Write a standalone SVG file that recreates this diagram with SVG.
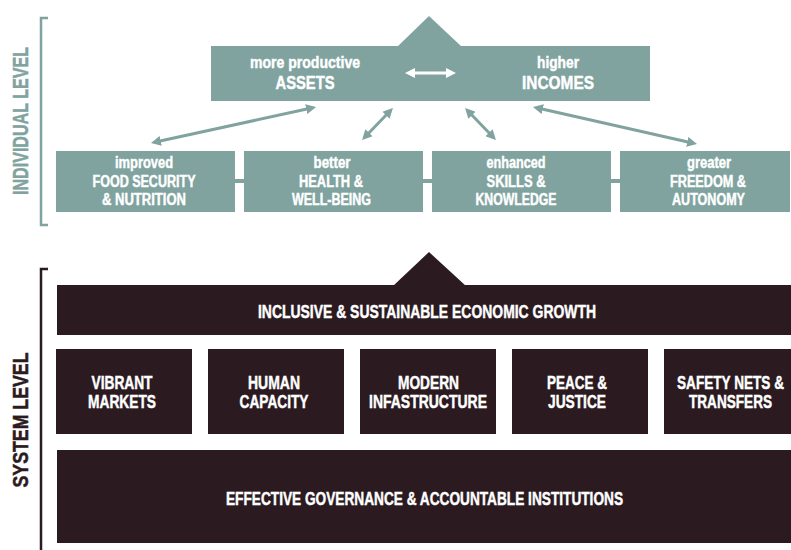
<svg xmlns="http://www.w3.org/2000/svg" width="791" height="550" viewBox="0 0 791 550">
  <style>
    .teal { fill: #80a3a0; }
    .dark { fill: #2b1b21; }
    .t { font-family: "Liberation Sans Narrow", "Liberation Sans", Arial, sans-serif; font-weight: bold; fill: #ffffff; stroke: #ffffff; stroke-width: 0.45; text-anchor: middle; }
    .s { font-size: 16px; }
    .b { font-size: 18.5px; }
    .m { font-size: 16px; }
    .lvl { font-family: "Liberation Sans Narrow", "Liberation Sans", Arial, sans-serif; font-weight: bold; font-size: 22.5px; stroke-width: 0.5; text-anchor: middle; }
    .bracket { fill: none; stroke-width: 2.5; }
    .arr { fill: none; stroke: #80a3a0; stroke-width: 3; marker-start: url(#hd); marker-end: url(#hd); }
    .warr { fill: none; stroke: #ffffff; stroke-width: 3; marker-start: url(#hw); marker-end: url(#hw); }
  </style>
  <defs>
    <marker id="hd" viewBox="0 0 10 10" refX="3" refY="5" markerWidth="10" markerHeight="10" markerUnits="userSpaceOnUse" orient="auto-start-reverse">
      <path d="M0,0 L10,5 L0,10 z" fill="#80a3a0"/>
    </marker>
    <marker id="hw" viewBox="0 0 10 10" refX="3" refY="5" markerWidth="10" markerHeight="11" markerUnits="userSpaceOnUse" orient="auto-start-reverse">
      <path d="M0,0 L10,5 L0,10 z" fill="#ffffff"/>
    </marker>
  </defs>

  <!-- level brackets and labels -->
  <g id="individual-level">
    <path class="bracket" stroke="#80a3a0" d="M48,18 H41 V225 H48"/>
    <text class="lvl" fill="#80a3a0" stroke="#80a3a0" transform="translate(28,121) rotate(-90)" textLength="148" lengthAdjust="spacingAndGlyphs">INDIVIDUAL LEVEL</text>
  </g>
  <g id="system-level">
    <path class="bracket" stroke="#2b1b21" d="M48,269 H41 V550"/>
    <text class="lvl" fill="#2b1b21" stroke="#2b1b21" transform="translate(28,420) rotate(-90)" textLength="135" lengthAdjust="spacingAndGlyphs">SYSTEM LEVEL</text>
  </g>

  <!-- connectors -->
  <g id="connectors">
    <rect class="teal" x="235" y="179" width="9" height="4"/>
    <rect class="teal" x="423" y="179" width="9" height="4"/>
    <rect class="teal" x="611" y="179" width="9" height="4"/>
    <path class="arr" d="M157.8,141.5 L309.2,108.5"/>
    <path class="arr" d="M366.9,135 L388.1,113"/>
    <path class="arr" d="M469.9,113 L491.1,135"/>
    <path class="arr" d="M539.8,108.5 L690.2,142.5"/>
  </g>

  <!-- individual level -->
  <g id="assets-incomes">
    <polygon class="teal" points="397,47 429,16 462,47"/>
    <rect class="teal" x="211" y="46" width="439" height="55"/>
    <text class="t s" x="305" y="68" textLength="110" lengthAdjust="spacingAndGlyphs">more productive</text>
    <text class="t b" x="305" y="89" textLength="59" lengthAdjust="spacingAndGlyphs">ASSETS</text>
    <text class="t s" x="558" y="68" textLength="42" lengthAdjust="spacingAndGlyphs">higher</text>
    <text class="t b" x="558" y="89" textLength="72" lengthAdjust="spacingAndGlyphs">INCOMES</text>
    <path class="warr" d="M412,73 L449,73"/>
  </g>
  <g id="food-security">
    <rect class="teal" x="56" y="151" width="179" height="61"/>
    <text class="t s" x="144" y="168" textLength="58" lengthAdjust="spacingAndGlyphs">improved</text>
    <text class="t m" x="144" y="187" textLength="103" lengthAdjust="spacingAndGlyphs">FOOD SECURITY</text>
    <text class="t m" x="144" y="205" textLength="84" lengthAdjust="spacingAndGlyphs">&amp; NUTRITION</text>
  </g>
  <g id="health">
    <rect class="teal" x="244" y="151" width="179" height="61"/>
    <text class="t s" x="332" y="168" textLength="37" lengthAdjust="spacingAndGlyphs">better</text>
    <text class="t m" x="331" y="187" textLength="64" lengthAdjust="spacingAndGlyphs">HEALTH &amp;</text>
    <text class="t m" x="331.5" y="205" textLength="79" lengthAdjust="spacingAndGlyphs">WELL-BEING</text>
  </g>
  <g id="skills">
    <rect class="teal" x="432" y="151" width="179" height="61"/>
    <text class="t s" x="516" y="168" textLength="59" lengthAdjust="spacingAndGlyphs">enhanced</text>
    <text class="t m" x="516" y="187" textLength="59" lengthAdjust="spacingAndGlyphs">SKILLS &amp;</text>
    <text class="t m" x="516" y="205" textLength="81" lengthAdjust="spacingAndGlyphs">KNOWLEDGE</text>
  </g>
  <g id="freedom">
    <rect class="teal" x="620" y="151" width="170" height="61"/>
    <text class="t s" x="709" y="168" textLength="44" lengthAdjust="spacingAndGlyphs">greater</text>
    <text class="t m" x="708" y="187" textLength="76" lengthAdjust="spacingAndGlyphs">FREEDOM &amp;</text>
    <text class="t m" x="708.5" y="205" textLength="73" lengthAdjust="spacingAndGlyphs">AUTONOMY</text>
  </g>

  <!-- system level -->
  <g id="growth">
    <polygon class="dark" points="393,286 429,252 466,286"/>
    <rect class="dark" x="57" y="285" width="734" height="50"/>
    <text class="t b" x="427" y="318" textLength="338" lengthAdjust="spacingAndGlyphs">INCLUSIVE &amp; SUSTAINABLE ECONOMIC GROWTH</text>
  </g>
  <g id="markets">
    <rect class="dark" x="56" y="349" width="136" height="85"/>
    <text class="t b" x="122" y="389" textLength="61" lengthAdjust="spacingAndGlyphs">VIBRANT</text>
    <text class="t b" x="122" y="408" textLength="68" lengthAdjust="spacingAndGlyphs">MARKETS</text>
  </g>
  <g id="capacity">
    <rect class="dark" x="208" y="349" width="136" height="85"/>
    <text class="t b" x="274" y="389" textLength="52" lengthAdjust="spacingAndGlyphs">HUMAN</text>
    <text class="t b" x="274" y="408" textLength="69" lengthAdjust="spacingAndGlyphs">CAPACITY</text>
  </g>
  <g id="infrastructure">
    <rect class="dark" x="360" y="349" width="136" height="85"/>
    <text class="t b" x="428.5" y="389" textLength="61" lengthAdjust="spacingAndGlyphs">MODERN</text>
    <text class="t b" x="428" y="408" textLength="118" lengthAdjust="spacingAndGlyphs">INFASTRUCTURE</text>
  </g>
  <g id="justice">
    <rect class="dark" x="512" y="349" width="136" height="85"/>
    <text class="t b" x="577" y="389" textLength="60" lengthAdjust="spacingAndGlyphs">PEACE &amp;</text>
    <text class="t b" x="577" y="408" textLength="58" lengthAdjust="spacingAndGlyphs">JUSTICE</text>
  </g>
  <g id="safety-nets">
    <rect class="dark" x="664" y="349" width="127" height="85"/>
    <text class="t b" x="730.5" y="389" textLength="107" lengthAdjust="spacingAndGlyphs">SAFETY NETS &amp;</text>
    <text class="t b" x="730.5" y="408" textLength="83" lengthAdjust="spacingAndGlyphs">TRANSFERS</text>
  </g>
  <g id="governance">
    <rect class="dark" x="57" y="450" width="734" height="93"/>
    <text class="t b" x="424.5" y="505" textLength="397" lengthAdjust="spacingAndGlyphs">EFFECTIVE GOVERNANCE &amp; ACCOUNTABLE INSTITUTIONS</text>
  </g>
</svg>
